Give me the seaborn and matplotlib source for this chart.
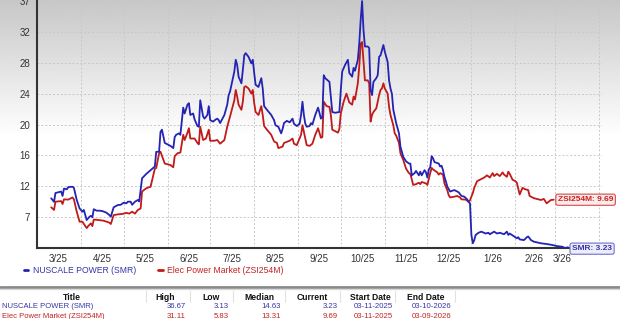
import numpy as np
import pandas as pd
import matplotlib
matplotlib.use("Agg")
import matplotlib.pyplot as plt
import seaborn as sns
from matplotlib.lines import Line2D

# ---------------- data ----------------
base_date = "2025-03-01"
smr_day = [10, 12, 13, 17, 18, 19, 21, 22, 25, 26, 28, 30, 32, 33, 35, 37, 38, 39, 40, 42,
           44, 46, 49, 51, 52, 54, 57, 59, 61, 63, 64, 66, 67, 69, 71, 72, 74, 76, 77, 83,
           84, 86, 87, 88, 90, 92, 94, 96, 97, 98, 100, 101, 103, 104, 105, 106, 107, 108, 110, 111,
           113, 114, 115, 117, 118, 120, 121, 122, 124, 126, 127, 128, 129, 132, 134, 135, 136, 138, 139, 140,
           141, 142, 144, 145, 146, 147, 149, 151, 152, 153, 154, 156, 158, 159, 160, 162, 165, 167, 168, 170,
           172, 173, 174, 176, 178, 180, 181, 183, 185, 186, 187, 188, 189, 190, 192, 193, 194, 196, 198, 200,
           201, 202, 203, 206, 207, 208, 210, 213, 214, 215, 217, 219, 220, 222, 223, 224, 226, 227, 228, 229,
           230, 231, 233, 234, 235, 236, 237, 239, 240, 241, 242, 243, 244, 245, 247, 248, 249, 250, 251, 252,
           253, 255, 256, 258, 260, 262, 263, 264, 266, 267, 269, 270, 271, 273, 274, 275, 276, 277, 278, 279,
           280, 283, 284, 285, 286, 287, 288, 289, 291, 294, 296, 297, 299, 301, 303, 304, 305, 306, 307, 308,
           309, 311, 313, 316, 318, 319, 322, 324, 326, 329, 331, 332, 333, 336, 338, 339, 340, 343, 345, 346,
           348, 350, 355, 359, 363, 366, 370, 372, 374]
smr_val = [9.88, 9.4, 10.6, 10.8, 10.2, 11.2, 11.1, 11.4, 11.45, 11.3, 9.65, 8.5, 8.06, 8.3, 6.93, 7.38, 7.5, 7.3, 8.4, 8.2,
           8.2, 8.15, 7.92, 7.6, 7.38, 8.66, 8.97, 9.0, 9.28, 9.2, 9.42, 9.42, 9.0, 9.42, 9.65, 9.45, 12.6, 13.0, 13.2, 14.2,
           16.2, 16.2, 18.9, 19.2, 17.4, 17.2, 17.0, 16.7, 18.2, 18.5, 18.7, 18.5, 22.2, 21.4, 22.0, 22.6, 22.8, 21.2, 21.4, 20.6,
           19.7, 19.6, 23.2, 21.0, 20.7, 21.2, 22.4, 20.5, 20.3, 20.6, 20.7, 20.5, 20.1, 21.2, 22.6, 23.9, 24.4, 26.2, 27.1, 28.7,
           28.0, 26.4, 25.5, 27.3, 29.3, 29.6, 29.1, 28.2, 28.7, 26.9, 25.3, 25.0, 26.2, 24.8, 22.4, 21.9, 21.2, 20.5, 19.8, 19.6,
           18.7, 19.3, 20.1, 20.4, 20.2, 20.7, 20.0, 19.7, 20.0, 21.2, 23.0, 21.2, 20.0, 19.6, 19.7, 20.1, 19.9, 21.2, 22.2, 20.7,
           20.9, 26.6, 26.2, 25.7, 23.7, 21.6, 21.5, 21.6, 24.6, 27.1, 28.0, 28.7, 26.9, 26.4, 27.6, 27.2, 28.7, 30.9, 34.1, 36.67,
           32.7, 30.5, 30.5, 30.3, 24.6, 23.9, 25.7, 26.2, 26.6, 29.1, 29.3, 30.0, 30.7, 29.8, 28.4, 25.9, 24.8, 24.1, 21.9, 21.0,
           20.1, 18.7, 16.9, 15.5, 14.9, 14.6, 14.6, 13.0, 13.3, 13.6, 13.0, 13.5, 13.0, 13.7, 13.4, 12.7, 13.8, 14.1, 15.6, 15.3,
           14.8, 14.6, 14.2, 14.3, 13.7, 12.8, 12.2, 11.5, 10.8, 11.0, 10.8, 10.7, 10.2, 10.1, 9.74, 9.4, 9.2, 4.9, 3.77, 4.2,
           4.9, 5.2, 5.35, 5.1, 5.2, 5.0, 5.35, 5.1, 5.2, 5.0, 5.35, 4.9, 5.1, 4.7, 4.45, 4.6, 4.3, 4.2, 4.58, 4.7,
           4.2, 3.99, 3.77, 3.67, 3.54, 3.4, 3.3, 3.13, 3.23]

zsi_day = [10, 12, 13, 17, 18, 19, 22, 25, 26, 28, 30, 32, 35, 36, 38, 39, 40, 44, 47, 51,
           52, 54, 57, 60, 63, 65, 67, 69, 71, 73, 74, 77, 80, 83, 84, 86, 87, 90, 92, 94,
           96, 97, 99, 101, 103, 104, 106, 107, 108, 111, 113, 114, 115, 117, 119, 121, 122, 125, 127, 129,
           132, 134, 136, 139, 140, 141, 142, 144, 145, 146, 147, 149, 151, 152, 153, 154, 156, 158, 159, 160,
           162, 165, 167, 169, 170, 173, 174, 178, 180, 181, 183, 186, 187, 189, 190, 192, 194, 196, 198, 200,
           201, 202, 204, 206, 207, 208, 212, 213, 214, 216, 218, 220, 222, 223, 224, 226, 227, 228, 229, 230,
           231, 233, 234, 235, 236, 237, 239, 240, 241, 242, 243, 244, 245, 247, 248, 249, 251, 252, 253, 255,
           256, 258, 260, 262, 263, 265, 267, 269, 270, 271, 274, 275, 276, 277, 278, 279, 282, 283, 284, 286,
           287, 289, 290, 291, 294, 296, 298, 299, 302, 304, 305, 307, 308, 310, 312, 315, 317, 319, 321, 322,
           324, 326, 328, 329, 331, 332, 333, 335, 337, 338, 339, 340, 342, 344, 346, 347, 350, 352, 355, 357,
           359, 362, 364]
zsi_val = [8.66, 8.3, 9.42, 9.5, 9.1, 9.74, 9.7, 10.0, 9.74, 8.06, 6.7, 6.7, 5.83, 6.1, 6.48, 6.1, 7.0, 6.9, 6.84, 6.57,
           6.39, 7.6, 7.7, 7.75, 7.9, 7.8, 8.06, 7.8, 8.29, 8.5, 10.8, 11.25, 11.45, 13.9, 14.0, 16.0, 16.2, 14.6, 14.5, 14.4,
           14.1, 15.6, 16.0, 16.1, 18.5, 17.8, 18.8, 19.4, 18.0, 18.0, 17.4, 17.2, 19.6, 17.8, 18.0, 19.2, 17.7, 17.7, 17.8, 17.3,
           17.8, 19.6, 21.0, 23.2, 24.6, 23.7, 22.6, 21.9, 23.0, 25.0, 25.1, 24.8, 24.1, 24.6, 22.8, 21.6, 21.2, 22.4, 21.2, 19.7,
           19.2, 18.5, 17.6, 17.4, 16.7, 16.9, 17.4, 17.7, 18.0, 17.3, 17.1, 18.5, 19.8, 18.0, 17.1, 17.0, 17.3, 18.5, 19.4, 18.1,
           18.2, 23.0, 22.4, 22.3, 21.2, 19.2, 18.8, 19.3, 21.4, 23.0, 24.1, 22.9, 22.6, 23.7, 23.3, 25.5, 27.8, 30.9, 31.11, 28.4,
           25.9, 25.9, 25.5, 20.3, 21.2, 21.6, 22.1, 23.0, 23.9, 24.6, 24.8, 25.5, 24.8, 24.1, 22.3, 21.2, 19.8, 18.7, 18.4, 17.4,
           16.0, 15.1, 13.9, 13.3, 13.2, 11.7, 11.8, 12.0, 11.8, 12.1, 11.9, 11.7, 12.5, 13.3, 14.0, 13.8, 13.4, 13.1, 13.3, 13.1,
           11.9, 11.0, 10.3, 10.0, 10.1, 10.2, 10.0, 9.74, 9.7, 9.42, 9.6, 10.6, 11.3, 12.2, 12.4, 12.7, 13.0, 12.7, 13.3, 12.9,
           13.2, 12.9, 13.4, 13.1, 12.8, 13.5, 13.2, 12.4, 12.2, 12.0, 11.2, 10.4, 11.3, 11.1, 11.0, 10.2, 9.9, 9.8, 9.65, 9.8,
           9.2, 9.65, 9.69]

smr_name = "NUSCALE POWER (SMR)"
zsi_name = "Elec Power Market (ZSI254M)"
smr_tag = "SMR: 3.23"
zsi_tag = "ZSI254M: 9.69"

y_range = (3.13, 36.67)
y_tick_labels = ["7", "12", "16", "20", "24", "28", "32", "37"]
x_tick_labels = ["3/25", "4/25", "5/25", "6/25", "7/25", "8/25", "9/25", "10/25",
                 "11/25", "12/25", "1/26", "2/26", "3/26"]
x_label_dates = ["2025-03-16", "2025-04-16", "2025-05-16", "2025-06-16", "2025-07-16",
                 "2025-08-16", "2025-09-16", "2025-10-16", "2025-11-16", "2025-12-16",
                 "2026-01-16", "2026-02-14", "2026-03-06"]
grid_dates = pd.date_range("2025-04-01", "2026-04-01", freq="MS")
x_limits = ("2025-03-01", "2026-04-03")

table_header = ["Title", "High", "Low", "Median", "Current", "Start Date", "End Date"]
smr_row = [smr_name, "36.67", "3.13", "14.63", "3.23", "03-11-2025", "03-10-2026"]
zsi_row = [zsi_name, "31.11", "5.83", "13.31", "9.69", "03-11-2025", "03-09-2026"]

# ---------------- figure ----------------
W, H = 620, 319
BLUE = "#2323b4"
RED = "#c01a1a"
TBLUE = "#3535a8"
TRED = "#c42222"

sns.set_style("white")
plt.rcParams["font.family"] = ["Liberation Sans", "DejaVu Sans"]

fig = plt.figure(figsize=(W / 100, H / 100), dpi=100)
fig.patch.set_facecolor("white")

ax_l, ax_r, ax_b, ax_t = 37 / W, 602 / W, 1 - 248 / H, 1.0

# gradient background behind the chart
bg = fig.add_axes([0, ax_b, 1, ax_t - ax_b], zorder=0)
rows = np.arange(256)
grad = np.clip(0.78 + (1 - 0.78) * rows / 140, 0, 1)
bg.imshow(grad[:, None] * np.ones((1, 4)), cmap="gray", vmin=0, vmax=1, aspect="auto",
          extent=[0, 1, 0, 1], origin="upper")
bg.set_axis_off()

ax = fig.add_axes([ax_l, ax_b, ax_r - ax_l, ax_t - ax_b], zorder=1)
ax.set_facecolor("none")

base = pd.Timestamp(base_date)
smr = pd.DataFrame({"date": base + pd.to_timedelta(smr_day, unit="D"), "v": smr_val})
zsi = pd.DataFrame({"date": base + pd.to_timedelta(zsi_day, unit="D"), "v": zsi_val})

sns.lineplot(data=zsi, x="date", y="v", color=RED, lw=1.3, estimator=None, ax=ax, zorder=3)
sns.lineplot(data=smr, x="date", y="v", color=BLUE, lw=1.3, estimator=None, ax=ax, zorder=4)

ax.set_xlim(pd.Timestamp(x_limits[0]), pd.Timestamp(x_limits[1]))
ymin, ymax = y_range
step = (ymax - ymin) / len(y_tick_labels)
ax.set_ylim(ymin, ymax + step * 0.035)
yt = [ymin + step * (i + 1) for i in range(len(y_tick_labels))]
ax.set_yticks(yt)
ax.set_yticklabels(y_tick_labels)
ax.set_xticks(pd.to_datetime(x_label_dates))
ax.set_xticklabels(x_tick_labels)
ax.set_xticks(grid_dates, minor=True)
ax.set_xlabel("")
ax.set_ylabel("")

ax.tick_params(axis="y", which="major", labelsize=7, colors="#333333", length=3, width=0.8,
               direction="out", pad=2)
ax.tick_params(axis="x", which="major", labelsize=7, colors="#333333", length=0, pad=4)
ax.tick_params(axis="x", which="minor", length=3, width=0.8, color="#555555", direction="out")

for y in yt:
    ax.axhline(y, color="#c8c8c8", lw=0.7, ls=(0, (2, 2)), zorder=1)
for d in grid_dates:
    ax.axvline(d, color="#c8c8c8", lw=0.7, ls=(0, (2, 2)), zorder=1)

for s in ["top", "right"]:
    ax.spines[s].set_visible(False)
ax.spines["left"].set_color("#333333")
ax.spines["left"].set_linewidth(1.5)
ax.spines["bottom"].set_color("#333333")
ax.spines["bottom"].set_linewidth(1.5)

# end tags
ax.annotate(zsi_tag, xy=(zsi["date"].iloc[-1], zsi["v"].iloc[-1]), xytext=(3, 0),
            textcoords="offset points", fontsize=6, color=TRED, va="center", ha="left",
            fontweight="bold", annotation_clip=False, zorder=6,
            bbox=dict(boxstyle="round,pad=0.25", fc="#fbeaea", ec="#d24a4a", lw=0.8))
ax.annotate(smr_tag, xy=(smr["date"].iloc[-1], smr["v"].iloc[-1]), xytext=(3, -1),
            textcoords="offset points", fontsize=6, color=TBLUE, va="center", ha="left",
            fontweight="bold", annotation_clip=False, zorder=6,
            bbox=dict(boxstyle="round,pad=0.25", fc="#ececfa", ec="#7070c8", lw=0.8))

# legend
handles = [Line2D([], [], color=BLUE, lw=2), Line2D([], [], color=RED, lw=2)]
leg = fig.legend(handles, [smr_name, zsi_name], loc="center left",
                 bbox_to_anchor=(24 / W, 1 - 270.5 / H), ncol=2, frameon=False,
                 fontsize=6.2, handlelength=0.5, handletextpad=0.5, columnspacing=2.6,
                 borderaxespad=0, borderpad=0)
for t, c in zip(leg.get_texts(), [TBLUE, TRED]):
    t.set_color(c)

# separator
fig.add_artist(Line2D([0, 1], [1 - 286.5 / H, 1 - 286.5 / H], color="#8a8a8a", lw=2.0))
fig.add_artist(Line2D([0, 1], [1 - 288.5 / H, 1 - 288.5 / H], color="#d8d8d8", lw=1.0))

# table
hdr_y = 1 - 297 / H
row_y = [1 - 307 / H, 1 - 316 / H]
hdr_x = [72, 165, 211, 259, 312, 370, 426]
val_right = [186, 229, 281, 338, 393, 451]
for txt, x in zip(table_header, hdr_x):
    fig.text(x / W, hdr_y, txt, ha="center", va="center", fontsize=6.2, fontweight="bold",
             color="#111111")
for x in [146, 190, 233, 285, 340, 395, 455]:
    fig.add_artist(Line2D([x / W, x / W], [1 - 291 / H, 1 - 302 / H], color="#e2e2e2", lw=0.8))
for row, yy, col, ul in [(smr_row, row_y[0], TBLUE, False), (zsi_row, row_y[1], TRED, True)]:
    fig.text(2 / W, yy, row[0], ha="left", va="center", fontsize=5.5, color=col)
    if ul:
        fig.add_artist(Line2D([2 / W, 105 / W], [yy - 4.5 / H, yy - 4.5 / H], color=col, lw=0.7))
    for txt, x in zip(row[1:], val_right):
        fig.text(x / W, yy, txt, ha="right", va="center", fontsize=5.6, color=col)

fig.savefig("out.png", dpi=100)
